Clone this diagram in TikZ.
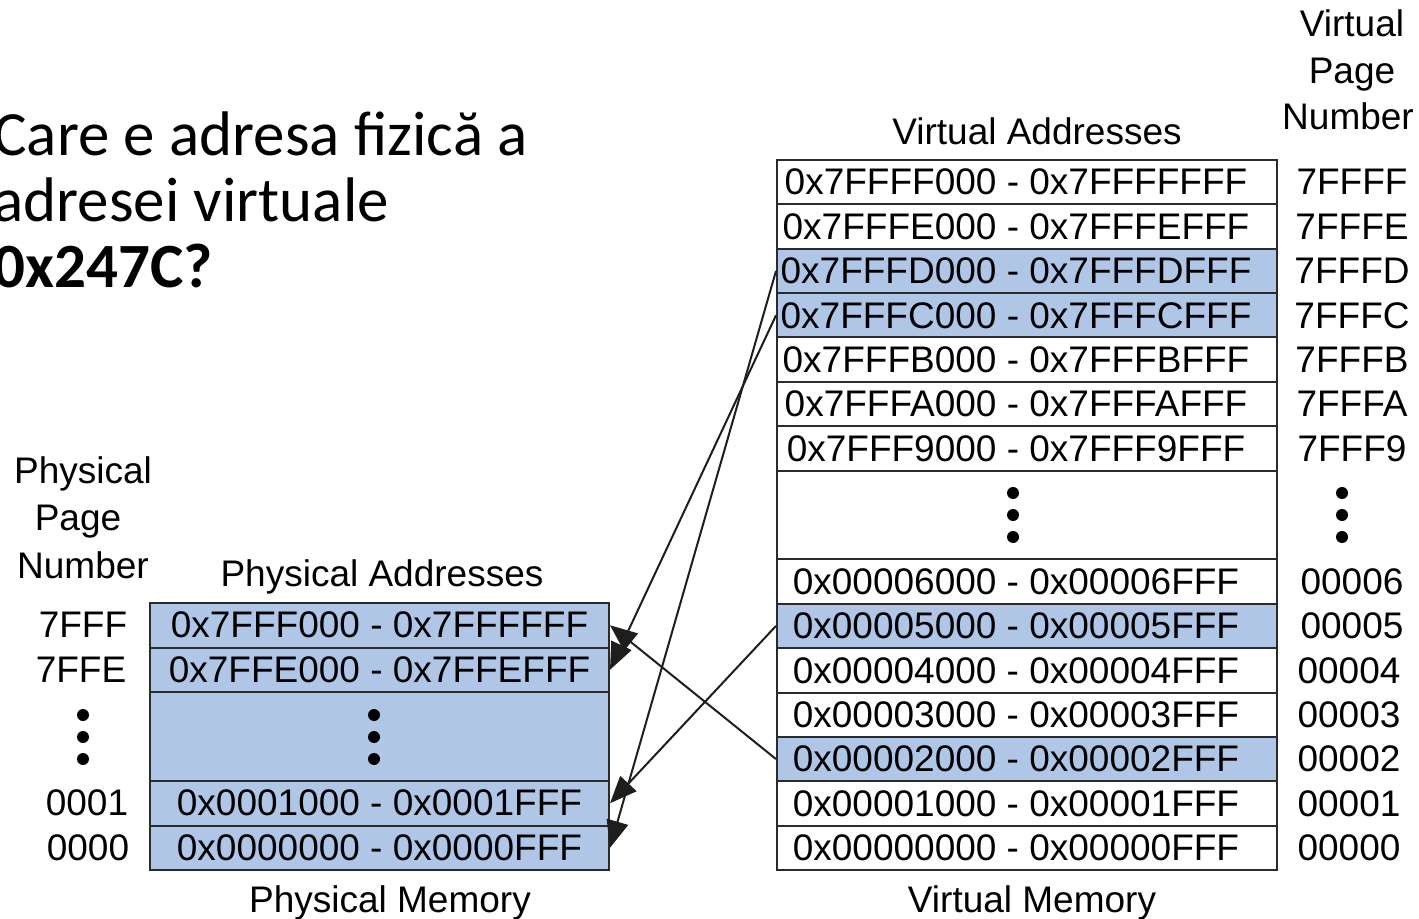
\documentclass[tikz,border=0pt]{standalone}
\usepackage{fontspec}
\setmainfont{Liberation Sans}
\newfontfamily\qfont{Carlito}
\usetikzlibrary{arrows.meta}
\definecolor{rowblue}{HTML}{AFC6E6}
\definecolor{edgegray}{HTML}{2B2B2B}
\definecolor{arrowgray}{HTML}{1E1E1E}
\begin{document}
\begin{tikzpicture}[x=0.5pt,y=-0.5pt,
  lbl/.style={font=\fontsize{18.5}{23.5}\selectfont, inner sep=0pt, text=black},
  vrow/.style={lbl, draw=edgegray, line width=1pt, minimum width=250pt, minimum height=22.19pt},
  prow/.style={lbl, draw=edgegray, line width=1pt, minimum width=229.5pt, minimum height=22.25pt, fill=rowblue},
  hl/.style={fill=rowblue},
  mapping/.style={draw=arrowgray, line width=1pt, -{Triangle[length=13.5pt,width=11pt]}},
  dotmark/.style={fill=black}
]
\useasboundingbox (0,0) rectangle (1419,919);
\clip (0,0) rectangle (1419,919);

% Question
\node[font=\qfont\fontsize{31.5}{33}\selectfont, align=left, anchor=south west, inner sep=0pt] (question) at (-7,288)
  {Care e adresa fizică a\\adresei virtuale\\\textbf{0x247C?}};

% Virtual memory table
\newcommand{\vsh}{\kern11pt}
\node[vrow] (v7FFFF) at (1027,182.19) {0x7FFFF000 - 0x7FFFFFFF\vsh};
\node[vrow] (v7FFFE) at (1027,226.56) {0x7FFFE000 - 0x7FFFEFFF\vsh};
\node[vrow,hl] (v7FFFD) at (1027,270.94) {0x7FFFD000 - 0x7FFFDFFF\vsh};
\node[vrow,hl] (v7FFFC) at (1027,315.31) {0x7FFFC000 - 0x7FFFCFFF\vsh};
\node[vrow] (v7FFFB) at (1027,359.69) {0x7FFFB000 - 0x7FFFBFFF\vsh};
\node[vrow] (v7FFFA) at (1027,404.06) {0x7FFFA000 - 0x7FFFAFFF\vsh};
\node[vrow] (v7FFF9) at (1027,448.44) {0x7FFF9000 - 0x7FFF9FFF\vsh};
\node[vrow, minimum height=44.375pt] (vdots) at (1027,515) {};
\node[vrow] (v00006) at (1027,581.56) {0x00006000 - 0x00006FFF\vsh};
\node[vrow,hl] (v00005) at (1027,625.94) {0x00005000 - 0x00005FFF\vsh};
\node[vrow] (v00004) at (1027,670.31) {0x00004000 - 0x00004FFF\vsh};
\node[vrow] (v00003) at (1027,714.69) {0x00003000 - 0x00003FFF\vsh};
\node[vrow,hl] (v00002) at (1027,759.06) {0x00002000 - 0x00002FFF\vsh};
\node[vrow] (v00001) at (1027,803.44) {0x00001000 - 0x00001FFF\vsh};
\node[vrow] (v00000) at (1027,847.81) {0x00000000 - 0x00000FFF\vsh};
\fill[dotmark] (1013,493) circle (3pt) (1013,515) circle (3pt) (1013,537) circle (3pt);

% Virtual page numbers
\node[lbl, anchor=base] (vpnhead) at (1352,37) {Virtual};
\node[lbl, anchor=base] (vpnhead2) at (1352,83.5) {Page};
\node[lbl, anchor=base] (vpnhead3) at (1348,130) {Number};
\node[lbl, anchor=base] (vahead) at (1037,145) {Virtual Addresses};
\node[lbl] (n7FFFF) at (1352,182.19) {7FFFF};
\node[lbl] (n7FFFE) at (1352,226.56) {7FFFE};
\node[lbl] (n7FFFD) at (1352,270.94) {7FFFD};
\node[lbl] (n7FFFC) at (1352,315.31) {7FFFC};
\node[lbl] (n7FFFB) at (1352,359.69) {7FFFB};
\node[lbl] (n7FFFA) at (1352,404.06) {7FFFA};
\node[lbl] (n7FFF9) at (1352,448.44) {7FFF9};
\fill[dotmark] (1342,493) circle (3pt) (1342,515) circle (3pt) (1342,537) circle (3pt);
\node[lbl] (n00006) at (1352,581.56) {00006};
\node[lbl] (n00005) at (1352,625.94) {00005};
\node[lbl] (n00004) at (1349,670.31) {00004};
\node[lbl] (n00003) at (1349,714.69) {00003};
\node[lbl] (n00002) at (1349,759.06) {00002};
\node[lbl] (n00001) at (1349,803.44) {00001};
\node[lbl] (n00000) at (1349,847.81) {00000};
\node[lbl, anchor=base] (vmem) at (1032,912) {Virtual Memory};

% Physical memory table
\node[prow] (p7FFF) at (379.5,625.25) {0x7FFF000 - 0x7FFFFFF};
\node[prow] (p7FFE) at (379.5,669.75) {0x7FFE000 - 0x7FFEFFF};
\node[prow, minimum height=44.5pt] (pdots) at (379.5,736.5) {};
\node[prow] (p0001) at (379.5,803.25) {0x0001000 - 0x0001FFF};
\node[prow] (p0000) at (379.5,847.75) {0x0000000 - 0x0000FFF};
\fill[dotmark] (374,715) circle (3pt) (374,737) circle (3pt) (374,759) circle (3pt);

% Physical page numbers
\node[lbl, anchor=base] (ppnhead) at (83,484) {Physical};
\node[lbl, anchor=base] (ppnhead2) at (78,530.5) {Page};
\node[lbl, anchor=base] (ppnhead3) at (83,578) {Number};
\node[lbl, anchor=base] (pahead) at (382,586) {Physical Addresses};
\node[lbl] (m7FFF) at (83,625.25) {7FFF};
\node[lbl] (m7FFE) at (81,669.75) {7FFE};
\fill[dotmark] (83,715) circle (3pt) (83,737) circle (3pt) (83,759) circle (3pt);
\node[lbl] (m0001) at (87,803.25) {0001};
\node[lbl] (m0000) at (88,847.75) {0000};
\node[lbl, anchor=base] (pmem) at (390,912) {Physical Memory};

% Mappings
\draw[mapping] (v7FFFD.west) -- (p0000.east);
\draw[mapping] (v7FFFC.west) -- (p7FFE.east);
\draw[mapping] (v00005.west) -- (p0001.east);
\draw[mapping] (v00002.west) -- (p7FFF.east);
\end{tikzpicture}
\end{document}
